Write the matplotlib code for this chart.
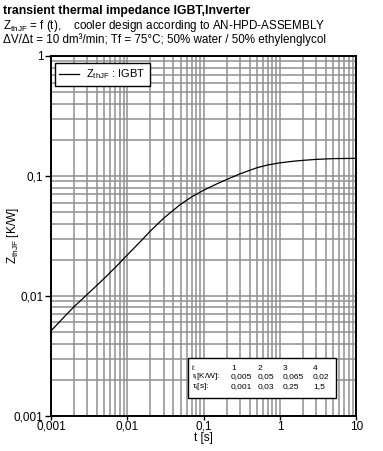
import matplotlib
matplotlib.use("Agg")
import matplotlib.pyplot as plt
from matplotlib.patches import Rectangle
from matplotlib.ticker import FixedLocator, FixedFormatter, LogLocator, NullFormatter

plt.rcParams['font.family'] = ['Liberation Sans', 'DejaVu Sans']
plt.rcParams['mathtext.fontset'] = 'custom'
plt.rcParams['mathtext.rm'] = 'Liberation Sans'
plt.rcParams['mathtext.it'] = 'Liberation Sans'

# curve
t_s = [0.001, 0.0015, 0.002, 0.003, 0.005, 0.007, 0.01, 0.015, 0.02, 0.03,
       0.05, 0.07, 0.1, 0.15, 0.2, 0.3, 0.5, 0.7, 1, 1.5, 2, 3, 5, 10]
zth = [0.0051, 0.0067, 0.0081, 0.0103, 0.0140, 0.0173, 0.0219, 0.0285, 0.0346, 0.0444,
       0.0580, 0.0669, 0.0759, 0.0859, 0.0932, 0.1040, 0.1169, 0.1235, 0.1285, 0.1325,
       0.1347, 0.1373, 0.1393, 0.1400]

x_ticks = [0.001, 0.01, 0.1, 1, 10]
x_labels = ['0,001', '0,01', '0,1', '1', '10']
y_ticks = [0.001, 0.01, 0.1, 1]
y_labels = ['0,001', '0,01', '0,1', '1']

# foster table
tab_i = ['1', '2', '3', '4']
tab_r = ['0,005', '0,05', '0,065', '0,02']
tab_tau = ['0,001', '0,03', '0,25', '1,5']

fig = plt.figure(figsize=(3.83, 4.51), dpi=100)
ax = fig.add_axes([0.133, 0.078, 0.797, 0.798])

ax.set_xscale('log')
ax.set_yscale('log')
ax.set_xlim(0.001, 10)
ax.set_ylim(0.001, 1)

ax.xaxis.set_major_locator(FixedLocator(x_ticks))
ax.xaxis.set_major_formatter(FixedFormatter(x_labels))
ax.yaxis.set_major_locator(FixedLocator(y_ticks))
ax.yaxis.set_major_formatter(FixedFormatter(y_labels))
ax.xaxis.set_minor_locator(LogLocator(base=10, subs=range(2, 10)))
ax.yaxis.set_minor_locator(LogLocator(base=10, subs=range(2, 10)))
ax.xaxis.set_minor_formatter(NullFormatter())
ax.yaxis.set_minor_formatter(NullFormatter())

ax.grid(True, which='both', color='#8f8f8f', linewidth=1.1)
ax.tick_params(which='major', direction='out', width=1, labelsize=8.5)
ax.tick_params(axis='x', which='major', length=3, pad=0.5)
ax.tick_params(axis='y', which='major', length=4, pad=1.5)
ax.tick_params(which='minor', length=0)
for s in ax.spines.values():
    s.set_linewidth(1.4)

ax.plot(t_s, zth, color='black', linewidth=0.9, label=r'Z$_{\mathrm{thJF}}$ : IGBT', zorder=3)

leg = ax.legend(loc='upper left', fontsize=8, fancybox=False, framealpha=1,
                edgecolor='black', borderpad=0.4, handlelength=1.8, handletextpad=0.6,
                bbox_to_anchor=(0.013, 0.98), borderaxespad=0)
leg.get_frame().set_linewidth(1.0)

ax.set_xlabel('t [s]', fontsize=8.5)
ax.xaxis.set_label_coords(0.5, -0.045)
ax.set_ylabel(r'Z$_{\mathrm{thJF}}$ [K/W]', fontsize=8.5)
ax.yaxis.set_label_coords(-0.097, 0.5)

# parameter table box (figure pixel coords)
W, H = 383, 451
def fx(px):
    return px / W
def fy(py):
    return 1 - py / H

fig.patches.append(Rectangle((fx(188), fy(398)), fx(336) - fx(188), fy(358) - fy(398),
                             transform=fig.transFigure, facecolor='white',
                             edgecolor='black', linewidth=1.0, zorder=5))
rows = [('i:', tab_i), (r'r$_{\mathrm{i}}$[K/W]:', tab_r), (r'τ$_{\mathrm{i}}$[s]:', tab_tau)]
col_x = [231, 258, 283, 313]
row_y = [368, 377, 387]
for (lab, vals), yy in zip(rows, row_y):
    fig.text(fx(192), fy(yy), lab, fontsize=6, va='center', zorder=6)
    for v, xx in zip(vals, col_x):
        fig.text(fx(xx), fy(yy), v, fontsize=6, va='center', zorder=6)

fig.text(fx(3), fy(11), 'transient thermal impedance IGBT,Inverter', fontsize=8.8,
         fontweight='bold', va='center')
fig.text(fx(3), fy(26), r'Z$_{\mathrm{thJF}}$ = f (t),    cooler design according to AN-HPD-ASSEMBLY',
         fontsize=8.4, va='center')
fig.text(fx(3), fy(40), 'ΔV/Δt = 10 dm³/min; Tf = 75°C; 50% water / 50% ethylenglycol',
         fontsize=8.4, va='center')

fig.savefig('out.png', dpi=100)
